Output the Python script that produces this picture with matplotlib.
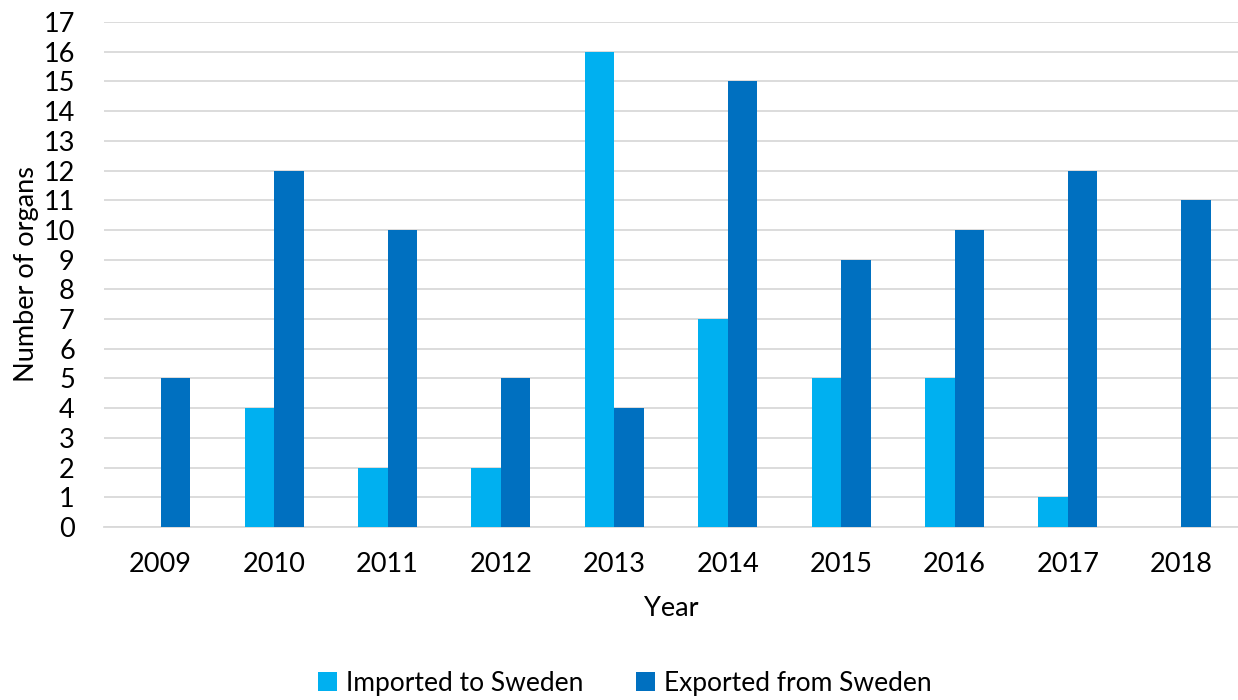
import matplotlib
matplotlib.use("Agg")
import matplotlib.pyplot as plt
import numpy as np

years = ["2009", "2010", "2011", "2012", "2013", "2014", "2015", "2016", "2017", "2018"]
imported = [0, 4, 2, 2, 16, 7, 5, 5, 1, 0]
exported = [5, 12, 10, 5, 4, 15, 9, 10, 12, 11]

plt.rcParams['font.family'] = ['Lato', 'DejaVu Sans']

W, H = 1238, 700
fig = plt.figure(figsize=(W / 100, H / 100), dpi=100)
left, right, top, bottom = 104, 1238, 22, 527
ax = fig.add_axes([left / W, 1 - bottom / H, (right - left) / W, (bottom - top) / H])

x = np.arange(len(years))
w = 0.26
ax.bar(x - w/2, imported, w, color="#00B0F0", label="Imported to Sweden", zorder=3)
ax.bar(x + w/2, exported, w, color="#0070C0", label="Exported from Sweden", zorder=3)

fs = 19.5
ax.set_xlim(-0.5, len(years) - 0.5)
ax.set_ylim(0, 17)
ax.set_yticks(range(0, 18))
ax.set_xticks(x)
ax.set_xticklabels(years)
ax.tick_params(axis='both', labelsize=fs, length=0, colors="#000000")
ax.tick_params(axis='x', pad=18)
ax.tick_params(axis='y', pad=21)
ax.yaxis.grid(True, color="#D9D9D9", linewidth=1.3, zorder=0)
for s in ["top", "right", "left"]:
    ax.spines[s].set_visible(False)
ax.spines["bottom"].set_color("#D9D9D9")
ax.spines["bottom"].set_linewidth(1.3)

ax.set_xlabel("Year", fontsize=fs, labelpad=14)
ax.set_ylabel("Number of organs", fontsize=fs, labelpad=3)

fig.legend(loc="center", bbox_to_anchor=(625 / W, 1 - 683 / H), ncol=2, frameon=False,
           fontsize=19, handlelength=0.7, handleheight=0.7, handletextpad=0.35, columnspacing=2.0)

fig.savefig("out.png", dpi=100)
